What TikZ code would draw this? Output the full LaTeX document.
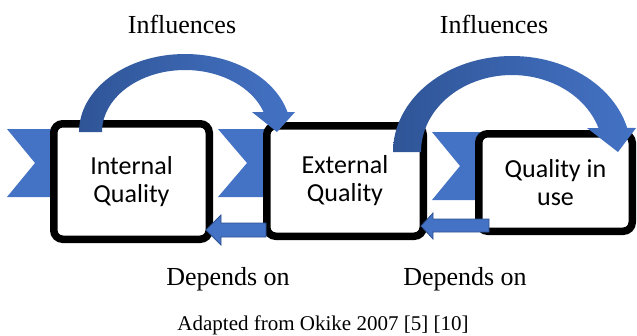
\documentclass[tikz,border=0pt]{standalone}
\usepackage{fontspec}
\setmainfont{Liberation Serif}
\newfontfamily\boxfont{Carlito}
\definecolor{qblue}{RGB}{68,114,196}
\definecolor{qdark}{RGB}{47,85,151}
\definecolor{qedge}{RGB}{47,82,143}
\begin{document}
\begin{tikzpicture}[x=1pt,y=-1pt,
  chev/.style={fill=qblue},
  qbox/.style={draw=black, line width=7.5pt, fill=white, rounded corners=9pt,
    align=center, inner sep=0pt, font=\boxfont\fontsize{26}{28}\selectfont},
  lbl/.style={font=\fontsize{26}{30}\selectfont, anchor=base, inner sep=0pt},
  note/.style={font=\fontsize{21}{25}\selectfont, anchor=base, inner sep=0pt},
  backarrow/.style={fill=qblue, draw=qedge, line width=0.8pt},
  bendarrow/.style={left color=qdark, right color=qblue}]
\useasboundingbox (0,0) rectangle (637,335);
% chevrons
\fill[chev] (7,129) -- (80,129) -- (80,197) -- (7,197) -- (35,163) -- cycle;
\fill[chev] (218,129) -- (290,129) -- (290,197) -- (218,197) -- (247,163) -- cycle;
\fill[chev] (432,132) -- (500,132) -- (500,200) -- (432,200) -- (460,166) -- cycle;
% boxes
\node[qbox, minimum width=155.5pt, minimum height=115.5pt] (b1) at (131.5,181.5) {Internal\\Quality};
\node[qbox, minimum width=156.5pt, minimum height=110.5pt] (b2) at (345,181) {External\\Quality};
\node[qbox, minimum width=153.5pt, minimum height=97.5pt] (b3) at (555.5,182.5) {Quality in\\use};
% back arrows
\fill[backarrow] (206,230) -- (221,215) -- (221,223) -- (266,223) -- (266,237) -- (221,237) -- (221,245) -- cycle;
\fill[backarrow] (421,226) -- (433,213) -- (433,219) -- (489,219) -- (489,232) -- (433,232) -- (433,239) -- cycle;
% curved arrows
\shade[bendarrow] (79,132) -- plot[domain=180:14.8, samples=60] ({185+106*cos(\x)},{132-78*sin(\x)})
  -- (295,112) -- (277,132) -- (252,112) -- (263.6,112)
  -- plot[domain=18.8:180, samples=60] ({185+83*cos(\x)},{132-62*sin(\x)}) -- cycle;
\shade[bendarrow] (393,152) -- plot[domain=180:14.5, samples=60] ({512+119*cos(\x)},{152-96*sin(\x)})
  -- (636,128) -- (618,152) -- (587,128) -- (598.5,128)
  -- plot[domain=18.2:180, samples=60] ({512+91*cos(\x)},{152-77*sin(\x)}) -- cycle;
% labels
\node[lbl] (inf1) at (182,33) {Influences};
\node[lbl] (inf2) at (494,33) {Influences};
\node[lbl] (dep1) at (228,285) {Depends on};
\node[lbl] (dep2) at (465,285) {Depends on};
\node[note] (src) at (323,330) {Adapted from Okike 2007 [5] [10]};
\end{tikzpicture}
\end{document}
